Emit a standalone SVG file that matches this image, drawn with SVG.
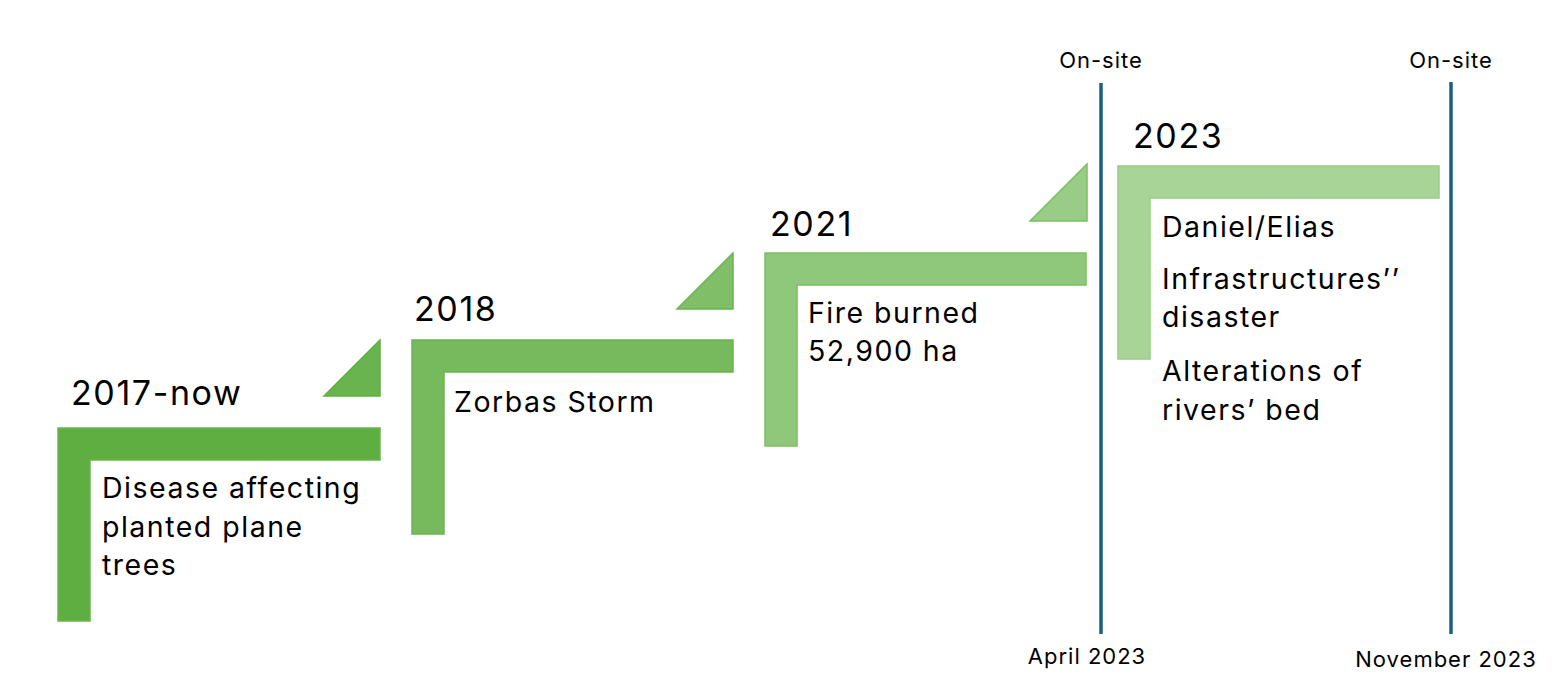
<svg xmlns="http://www.w3.org/2000/svg" width="1562" height="695" viewBox="0 0 1562 695">
<style>
text{font-family:Inter,"Liberation Sans",sans-serif;fill:#000}
.yr{font-size:34px;letter-spacing:1.6px}
.bd{font-size:28.5px;letter-spacing:1.5px}
.sm{font-size:22px;letter-spacing:1px;text-anchor:middle}
.vl{stroke:#1d5e80;stroke-width:3.5}
polygon{stroke-width:1.5}
</style>
<rect width="1562" height="695" fill="#fff"/>
<g id="connectors">
<line class="vl" x1="1101" y1="83" x2="1101" y2="634"/>
<line class="vl" x1="1451" y1="82" x2="1451" y2="634"/>
</g>
<g id="n2017">
<polygon points="58,428 380,428 380,460 90,460 90,621 58,621" fill="#5fae42" stroke="#6ab451"/>
<polygon points="324,396 380,340 380,396" fill="#6ab450" stroke="#5fae42"/>
<text class="yr" x="71" y="405">2017-now</text>
<text class="bd" x="102" y="498">Disease affecting</text>
<text class="bd" x="102" y="537">planted plane</text>
<text class="bd" x="102" y="575">trees</text>
</g>
<g id="n2018">
<polygon points="412,340 733,340 733,372 444,372 444,534 412,534" fill="#77ba5d" stroke="#6ab451"/>
<polygon points="677,309 733,253 733,309" fill="#80bf68" stroke="#6ab451"/>
<text class="yr" x="414" y="321">2018</text>
<text class="bd" x="454" y="412">Zorbas Storm</text>
</g>
<g id="n2021">
<polygon points="765,253 1086,253 1086,285 797,285 797,446 765,446" fill="#90c87b" stroke="#7cbe64"/>
<polygon points="1030,221 1087,164 1087,221" fill="#99cc86" stroke="#7cbe64"/>
<text class="yr" x="770" y="236">2021</text>
<text class="bd" x="808" y="323">Fire burned</text>
<text class="bd" x="808" y="361">52,900 ha</text>
</g>
<g id="n2023">
<polygon points="1118,166 1439,166 1439,198 1150,198 1150,359 1118,359" fill="#a8d498" stroke="#97cd85"/>
<text class="yr" x="1133" y="148">2023</text>
<text class="bd" x="1162" y="237">Daniel/Elias</text>
<text class="bd" x="1162" y="289">Infrastructures’’</text>
<text class="bd" x="1162" y="327">disaster</text>
<text class="bd" x="1162" y="381">Alterations of</text>
<text class="bd" x="1162" y="420">rivers’ bed</text>
</g>
<g id="labels">
<text class="sm" x="1101" y="68">On-site</text>
<text class="sm" x="1451" y="68">On-site</text>
<text class="sm" x="1087" y="664">April 2023</text>
<text class="sm" x="1446" y="667">November 2023</text>
</g>
</svg>
